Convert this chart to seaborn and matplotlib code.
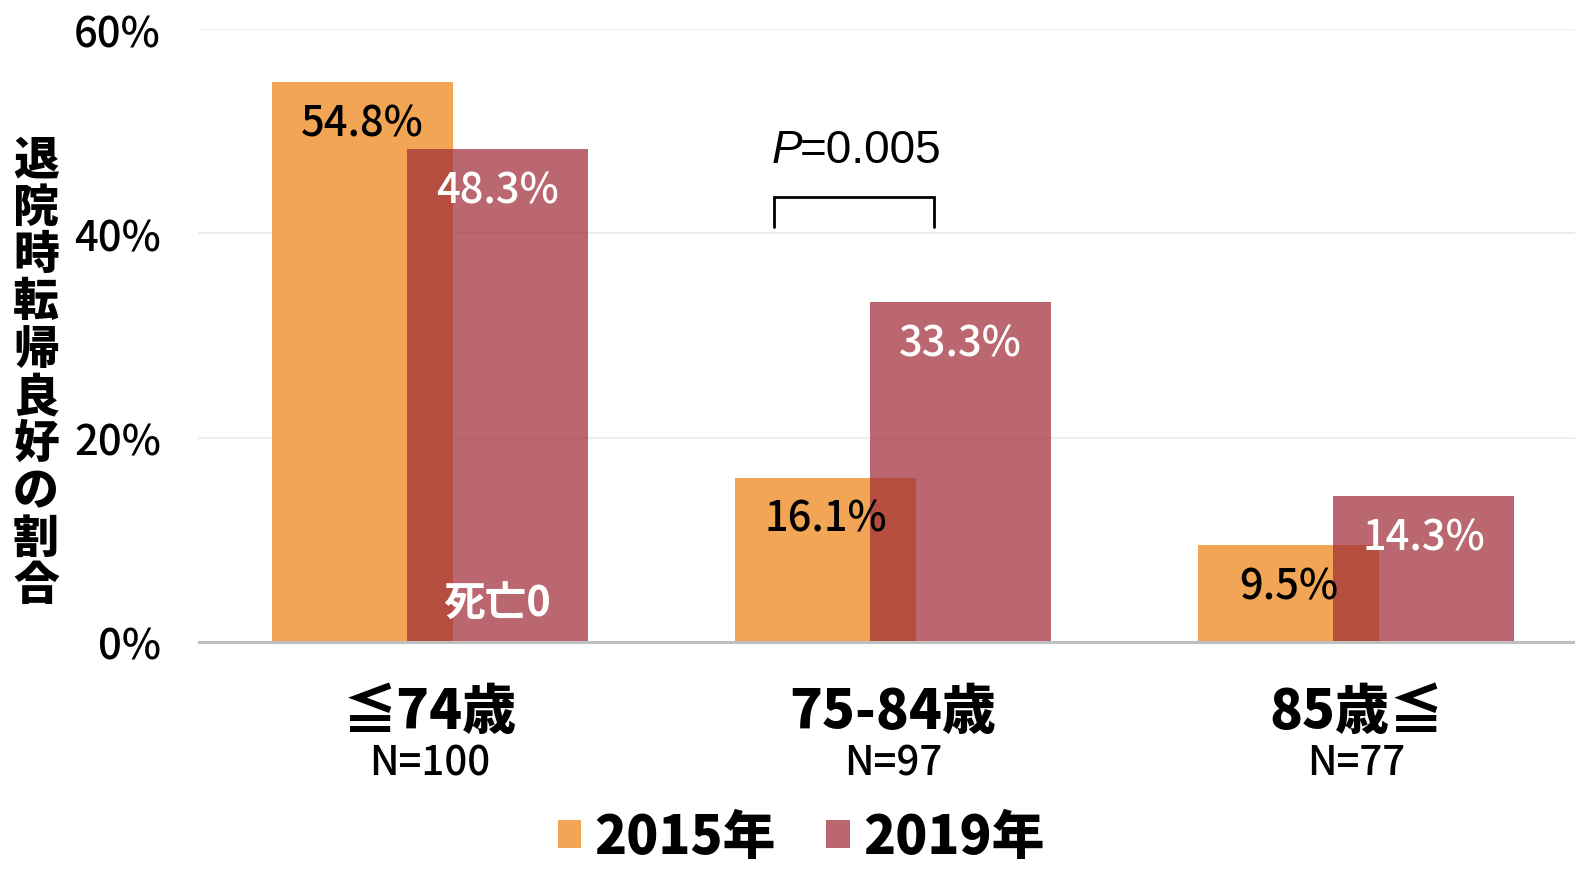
import matplotlib
matplotlib.use("Agg")
import matplotlib.pyplot as plt
import seaborn as sns
import pandas as pd
from matplotlib.ticker import FuncFormatter
from matplotlib.patches import Patch

categories = ["≦74歳", "75-84歳", "85歳≦"]
n_labels = ["N=100", "N=97", "N=77"]
years = ["2015年", "2019年"]
vals_2015 = [54.8, 16.1, 9.5]
vals_2019 = [48.3, 33.3, 14.3]
yticks = [0, 20, 40, 60]
ylabel = "退院時転帰良好の割合"
p_text = "0.005"

c15 = "#F2A554"
c19 = "#A02D38"
a19 = 0.72

sns.set_theme(style="white")
plt.rcParams["font.family"] = ["Noto Sans CJK JP", "DejaVu Sans"]
plt.rcParams["text.color"] = "black"
plt.rcParams["xtick.color"] = "black"
plt.rcParams["ytick.color"] = "black"
plt.rcParams["axes.labelcolor"] = "black"

df = pd.DataFrame({
    "cat": categories * 2,
    "val": vals_2015 + vals_2019,
    "year": [years[0]] * 3 + [years[1]] * 3,
})

fig = plt.figure(figsize=(15.75, 8.7), dpi=100)
W, H = 1575, 870
ax = fig.add_axes([198.5 / W, 1 - 643 / H, 1389 / W, 613 / H])

sns.barplot(data=df, x="cat", y="val", hue="year", order=categories,
            hue_order=years, palette=[c15, c19], width=0.584, dodge=True,
            errorbar=None, legend=False, ax=ax, saturation=1)

bw = 0.39
for i, p in enumerate(ax.patches):
    cx = p.get_x() + p.get_width() / 2
    p.set_x(cx - bw / 2)
    p.set_width(bw)
    p.set_edgecolor("none")
    p.set_linewidth(0)
    if i >= 3:
        p.set_alpha(a19)

ax.set_xlim(-0.5, 2.5)
ax.set_ylim(0, 60)
ax.set_yticks(yticks)
ax.yaxis.set_major_formatter(FuncFormatter(lambda v, _: f"{v:.0f}%"))
ax.tick_params(axis="y", length=0, pad=27, labelsize=30)
for t in ax.get_yticklabels():
    t.set_fontweight("medium")
ax.set_xticks([])
ax.set_xlabel("")
ax.set_ylabel("")
ax.grid(axis="y", color="#EDEDED", lw=1.5)
ax.set_axisbelow(True)
for s in ["left", "top", "right"]:
    ax.spines[s].set_visible(False)
ax.spines["bottom"].set_color("#BFBFBF")
ax.spines["bottom"].set_linewidth(2.2)
ax.spines["bottom"].set_zorder(5)

# value labels
for i, p in enumerate(ax.patches):
    cx = p.get_x() + p.get_width() / 2
    h = p.get_height()
    col = "black" if i < 3 else "white"
    ax.annotate(f"{h:.1f}%", xy=(cx, h), xytext=(0, -29.5),
                textcoords="offset points", ha="center", va="center",
                fontsize=30, fontweight="medium", color=col, zorder=6)

# 死亡0
p0 = ax.patches[3]
ax.text(p0.get_x() + p0.get_width() / 2, 3.74, "死亡0", ha="center",
        va="center", fontsize=30, fontweight="bold", color="white", zorder=6)

# category labels
trans = ax.get_xaxis_transform()
for i, (c, n) in enumerate(zip(categories, n_labels)):
    ax.annotate(c, xy=(i, 0), xycoords=trans, xytext=(0, -50),
                textcoords="offset points", ha="center", va="center",
                fontsize=39, fontweight="heavy", annotation_clip=False)
    ax.annotate(n, xy=(i, 0), xycoords=trans, xytext=(0, -87),
                textcoords="offset points", ha="center", va="center",
                fontsize=29, fontweight="medium", annotation_clip=False)

# significance bracket
bx0, bx1 = 1 - 0.256, 1 + 0.089
ax.plot([bx0, bx0, bx1, bx1], [40.6, 43.6, 43.6, 40.6], color="black",
        lw=2, solid_joinstyle="miter", zorder=6)
pt = ax.text(1 - 0.2625, 48.2, "P", style="italic", ha="left", va="center",
             fontsize=33, family="Liberation Sans")
ax.annotate("=" + p_text, xy=(0.92, 0.5), xycoords=pt, ha="left",
            va="center", fontsize=33, family="Liberation Sans")

# y label stacked
for k, ch in enumerate(ylabel):
    fig.text(36 / W, 1 - (161 + k * 47.3) / H, ch, ha="center", va="center",
             fontsize=33, fontweight="heavy")

# legend
handles = [Patch(facecolor=c15, edgecolor="none"),
           Patch(facecolor=c19, alpha=a19, edgecolor="none")]
fig.legend(handles, years, loc="center", ncol=2,
           bbox_to_anchor=(801 / W, 1 - 838 / H), frameon=False,
           prop={"size": 38, "weight": "heavy"}, handlelength=0.45,
           handleheight=0.45, handletextpad=0.25, columnspacing=0.95,
           borderpad=0.1)

fig.savefig("out.png", dpi=100)
